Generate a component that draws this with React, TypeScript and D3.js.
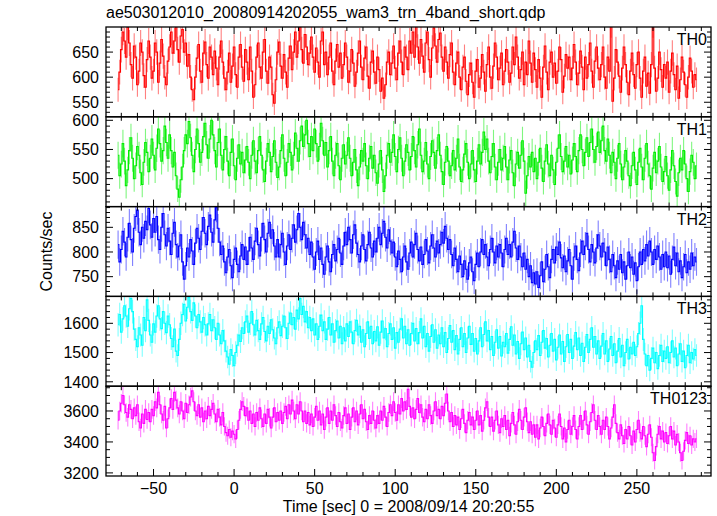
import React from "react";
import * as d3 from "d3";

const TITLE = "ae503012010_20080914202055_wam3_trn_4band_short.qdp";
const X_LABEL = "Time [sec] 0 = 2008/09/14 20:20:55";
const Y_LABEL = "Counts/sec";
const T_START = -72; // centre of first 1-s bin
const BIN = 1;

const TH0 = [
  575, 610, 655, 690, 672, 640, 700, 668, 625, 598, 662, 640, 585, 612, 668, 650, 603, 580, 635, 672,
  640, 598, 612, 668, 650, 590, 628, 675, 642, 600, 585, 632, 660, 690, 648, 672, 705, 655, 630, 682,
  695, 650, 668, 622, 645, 600, 575, 555, 600, 638, 665, 612, 590, 648, 670, 625, 598, 660, 640, 605,
  652, 618, 585, 640, 672, 630, 598, 575, 610, 648, 590, 622, 660, 605, 580, 640, 665, 620, 592, 655,
  630, 595, 660, 612, 560, 585, 640, 668, 620, 598, 650, 675, 612, 588, 640, 620, 565, 548, 595, 650,
  670, 622, 598, 645, 610, 580, 638, 662, 615, 650, 690, 640, 672, 700, 655, 628, 685, 660, 625, 648,
  680, 640, 610, 658, 630, 600, 672, 690, 625, 650, 605, 640, 668, 612, 585, 632, 665, 620, 648, 598,
  625, 668, 640, 590, 612, 655, 628, 582, 610, 648, 672, 620, 595, 638, 660, 602, 578, 630, 652, 610,
  588, 640, 615, 572, 598, 558, 585, 630, 650, 605, 628, 662, 618, 595, 648, 672, 630, 605, 660, 640,
  615, 672, 648, 690, 640, 705, 660, 628, 675, 642, 610, 668, 690, 635, 600, 658, 698, 662, 630, 675,
  688, 640, 612, 660, 630, 598, 645, 668, 610, 585, 628, 650, 600, 575, 620, 640, 592, 565, 605, 628,
  590, 560, 612, 635, 580, 598, 645, 610, 572, 625, 660, 600, 578, 622, 668, 640, 595, 618, 648, 585,
  612, 655, 630, 590, 608, 660, 625, 680, 640, 598, 615, 650, 585, 630, 605, 672, 628, 590, 648, 615,
  580, 635, 598, 560, 620, 662, 610, 575, 630, 650, 600, 628, 588, 612, 660, 635, 570, 602, 645, 618,
  640, 595, 618, 665, 630, 585, 608, 652, 620, 575, 640, 598, 625, 668, 612, 580, 632, 660, 618, 595,
  625, 660, 600, 578, 640, 612, 705, 552, 598, 655, 630, 602, 570, 618, 660, 625, 590, 565, 612, 648,
  605, 578, 625, 650, 598, 560, 612, 640, 582, 608, 568, 625, 705, 618, 572, 598, 650, 615, 580, 625,
  598, 630, 570, 612, 648, 605, 575, 622, 558, 595, 640, 610, 585, 560, 600, 638, 612, 580, 605, 595,
];

const TH1 = [
  540, 505, 525, 560, 530, 488, 515, 548, 570, 535, 500, 522, 555, 540, 510, 490, 528, 562, 545, 512,
  535, 568, 540, 515, 552, 585, 560, 530, 548, 590, 562, 535, 575, 548, 520, 545, 505, 482, 468, 498,
  520, 548, 575, 560, 598, 570, 540, 512, 550, 585, 560, 528, 545, 572, 595, 558, 535, 568, 600, 575,
  548, 520, 562, 585, 540, 515, 550, 572, 530, 505, 545, 568, 522, 498, 535, 558, 525, 545, 510, 532,
  555, 528, 500, 540, 565, 530, 510, 548, 572, 540, 515, 495, 530, 560, 545, 512, 538, 565, 528, 502,
  520, 548, 575, 535, 505, 528, 560, 545, 515, 540, 578, 552, 530, 565, 590, 555, 575, 600, 560, 538,
  572, 548, 585, 560, 530, 555, 595, 565, 540, 562, 520, 548, 572, 530, 505, 540, 560, 522, 498, 535,
  558, 525, 540, 570, 535, 505, 528, 550, 515, 488, 520, 548, 530, 560, 522, 500, 535, 555, 518, 540,
  510, 492, 525, 548, 515, 478, 505, 540, 560, 528, 545, 575, 538, 512, 550, 570, 535, 505, 530, 558,
  545, 515, 538, 572, 548, 520, 558, 585, 540, 512, 530, 562, 525, 500, 538, 565, 545, 518, 548, 575,
  540, 512, 490, 528, 555, 530, 505, 522, 548, 515, 535, 568, 520, 495, 515, 542, 560, 528, 500, 525,
  548, 515, 495, 530, 558, 525, 545, 580, 550, 568, 530, 510, 538, 560, 520, 498, 528, 550, 515, 535,
  555, 520, 498, 532, 548, 510, 488, 525, 545, 518, 540, 565, 530, 475, 505, 538, 520, 545, 512, 535,
  500, 528, 552, 518, 495, 530, 558, 525, 505, 540, 515, 490, 528, 552, 575, 538, 512, 530, 555, 520,
  540, 508, 532, 560, 538, 512, 548, 575, 550, 522, 545, 570, 538, 562, 585, 550, 528, 555, 580, 545,
  565, 590, 548, 530, 568, 540, 510, 545, 528, 500, 535, 560, 525, 498, 520, 548, 530, 505, 488, 522,
  545, 515, 490, 528, 552, 520, 498, 535, 560, 525, 505, 482, 518, 545, 510, 530, 555, 520, 495, 512,
  538, 505, 480, 515, 548, 522, 495, 470, 510, 535, 515, 548, 525, 500, 478, 512, 540, 528, 500, 522,
];

const TH2 = [
  815, 780, 805, 842, 820, 790, 830, 858, 825, 800, 848, 872, 885, 840, 815, 850, 828, 862, 845, 888,
  855, 830, 868, 840, 872, 825, 805, 850, 878, 835, 812, 848, 822, 795, 838, 860, 815, 790, 812, 835,
  780, 745, 772, 808, 790, 825, 802, 775, 818, 848, 828, 805, 842, 870, 838, 815, 852, 875, 840, 820,
  865, 890, 848, 820, 795, 812, 780, 758, 790, 805, 772, 748, 785, 808, 775, 760, 792, 815, 785, 810,
  775, 802, 830, 808, 785, 822, 848, 815, 792, 830, 858, 825, 800, 838, 860, 828, 845, 812, 790, 825,
  790, 815, 838, 800, 775, 812, 835, 805, 828, 855, 820, 845, 878, 850, 825, 860, 835, 808, 828, 795,
  820, 790, 765, 800, 822, 785, 808, 775, 755, 790, 812, 780, 760, 795, 815, 782, 805, 828, 798, 775,
  812, 840, 815, 850, 825, 798, 835, 855, 818, 795, 780, 812, 835, 805, 782, 815, 840, 808, 790, 822,
  800, 828, 850, 815, 838, 862, 830, 808, 845, 822, 798, 820, 790, 770, 802, 785, 760, 790, 812, 780,
  765, 798, 820, 790, 815, 838, 805, 782, 810, 775, 795, 825, 802, 778, 812, 835, 808, 790, 822, 798,
  815, 840, 818, 852, 828, 805, 825, 795, 772, 808, 785, 760, 792, 775, 750, 782, 765, 745, 778, 790,
  760, 742, 775, 798, 770, 800, 825, 795, 815, 790, 772, 805, 828, 800, 778, 812, 790, 815, 798, 770,
  805, 828, 795, 815, 790, 820, 842, 808, 785, 812, 790, 770, 798, 765, 785, 750, 772, 738, 758, 735,
  760, 728, 752, 780, 740, 765, 795, 770, 748, 785, 805, 778, 810, 795, 820, 788, 768, 792, 760, 782,
  805, 772, 745, 790, 812, 785, 762, 798, 822, 795, 812, 838, 805, 780, 815, 800, 778, 808, 835, 812,
  790, 818, 800, 772, 810, 785, 760, 795, 772, 748, 782, 765, 795, 758, 780, 745, 772, 800, 768, 790,
  755, 778, 742, 770, 800, 775, 805, 782, 815, 792, 822, 800, 775, 805, 785, 812, 790, 765, 795, 770,
  800, 768, 792, 755, 785, 810, 772, 798, 760, 782, 748, 770, 795, 758, 780, 765, 798, 772, 790, 780,
];

const TH3 = [
  1595, 1630, 1570, 1615, 1660, 1625, 1590, 1650, 1685, 1640, 1580, 1545, 1520, 1585, 1560, 1525, 1620, 1575, 1680, 1610,
  1560, 1535, 1598, 1570, 1625, 1660, 1615, 1582, 1640, 1600, 1568, 1625, 1595, 1548, 1520, 1580, 1505, 1490, 1545, 1600,
  1630, 1665, 1608, 1655, 1688, 1640, 1610, 1670, 1625, 1585, 1630, 1605, 1570, 1620, 1595, 1560, 1598, 1630, 1575, 1612,
  1585, 1545, 1600, 1560, 1530, 1575, 1540, 1505, 1485, 1460, 1510, 1490, 1455, 1500, 1525, 1560, 1538, 1585, 1565, 1605,
  1625, 1570, 1600, 1640, 1595, 1560, 1610, 1575, 1545, 1598, 1620, 1572, 1540, 1590, 1565, 1612, 1578, 1550, 1530, 1585,
  1605, 1558, 1590, 1625, 1585, 1548, 1600, 1635, 1595, 1620, 1580, 1645, 1615, 1685, 1630, 1658, 1605, 1640, 1585, 1620,
  1575, 1615, 1560, 1598, 1545, 1590, 1628, 1575, 1605, 1545, 1580, 1620, 1560, 1598, 1535, 1575, 1608, 1550, 1590, 1530,
  1585, 1540, 1598, 1555, 1605, 1570, 1530, 1575, 1610, 1560, 1590, 1535, 1578, 1520, 1565, 1605, 1548, 1590, 1530, 1572,
  1540, 1588, 1525, 1570, 1608, 1550, 1582, 1520, 1565, 1598, 1545, 1585, 1515, 1568, 1535, 1580, 1615, 1550, 1590, 1530,
  1578, 1525, 1565, 1600, 1540, 1582, 1530, 1568, 1615, 1550, 1590, 1520, 1565, 1505, 1555, 1595, 1535, 1578, 1515, 1560,
  1530, 1585, 1520, 1568, 1500, 1548, 1592, 1535, 1575, 1510, 1558, 1495, 1545, 1585, 1520, 1565, 1500, 1550, 1590, 1528,
  1565, 1505, 1548, 1495, 1540, 1585, 1520, 1562, 1605, 1540, 1575, 1510, 1555, 1490, 1535, 1578, 1515, 1555, 1488, 1535,
  1520, 1565, 1498, 1545, 1588, 1525, 1560, 1495, 1538, 1480, 1530, 1570, 1510, 1550, 1485, 1525, 1470, 1450, 1500, 1540,
  1510, 1558, 1490, 1535, 1575, 1515, 1548, 1485, 1525, 1565, 1505, 1545, 1475, 1518, 1560, 1495, 1538, 1470, 1520, 1562,
  1500, 1545, 1480, 1522, 1568, 1510, 1550, 1490, 1532, 1470, 1518, 1562, 1500, 1545, 1585, 1518, 1555, 1495, 1540, 1480,
  1522, 1565, 1495, 1540, 1470, 1512, 1555, 1490, 1530, 1465, 1505, 1548, 1485, 1525, 1455, 1500, 1545, 1478, 1518, 1495,
  1535, 1490, 1520, 1565, 1600, 1660, 1545, 1495, 1455, 1490, 1440, 1480, 1515, 1465, 1500, 1445, 1490, 1525, 1470, 1505,
  1480, 1520, 1465, 1500, 1540, 1485, 1515, 1455, 1495, 1530, 1470, 1505, 1448, 1490, 1525, 1465, 1500, 1478, 1510, 1490,
];

const TH0123 = [
  3540, 3600, 3650, 3700, 3640, 3590, 3560, 3640, 3610, 3550, 3620, 3570, 3640, 3530, 3490, 3580, 3520, 3610, 3545, 3590,
  3530, 3610, 3570, 3660, 3620, 3720, 3640, 3580, 3540, 3630, 3490, 3550, 3620, 3680, 3610, 3720, 3670, 3620, 3580, 3660,
  3600, 3550, 3650, 3590, 3640, 3690, 3730, 3660, 3600, 3570, 3640, 3560, 3620, 3530, 3600, 3550, 3630, 3570, 3610, 3650,
  3580, 3530, 3610, 3560, 3510, 3590, 3500, 3460, 3440, 3480, 3430, 3470, 3450, 3420, 3480, 3540, 3610, 3660, 3630, 3570,
  3620, 3540, 3600, 3520, 3580, 3500, 3590, 3540, 3620, 3550, 3500, 3580, 3520, 3610, 3560, 3490, 3560, 3620, 3530, 3590,
  3540, 3600, 3520, 3590, 3630, 3550, 3640, 3580, 3670, 3600, 3550, 3640, 3580, 3660, 3600, 3530, 3600, 3520, 3590, 3510,
  3580, 3500, 3560, 3630, 3540, 3600, 3510, 3580, 3480, 3560, 3620, 3520, 3600, 3540, 3640, 3570, 3500, 3590, 3530, 3490,
  3570, 3620, 3520, 3580, 3480, 3560, 3620, 3530, 3600, 3510, 3580, 3640, 3550, 3610, 3530, 3480, 3570, 3520, 3600, 3540,
  3490, 3570, 3520, 3600, 3540, 3630, 3560, 3500, 3590, 3640, 3570, 3660, 3590, 3540, 3640, 3580, 3680, 3600, 3660, 3610,
  3740, 3630, 3560, 3620, 3550, 3610, 3680, 3590, 3640, 3560, 3530, 3610, 3550, 3640, 3570, 3520, 3600, 3660, 3570, 3610,
  3550, 3630, 3570, 3650, 3710, 3600, 3530, 3590, 3500, 3570, 3510, 3560, 3480, 3550, 3610, 3520, 3460, 3540, 3590, 3510,
  3560, 3480, 3540, 3600, 3510, 3570, 3470, 3540, 3620, 3660, 3560, 3500, 3560, 3470, 3540, 3600, 3510, 3460, 3550, 3500,
  3570, 3480, 3540, 3440, 3520, 3590, 3510, 3450, 3530, 3610, 3540, 3480, 3560, 3620, 3530, 3460, 3530, 3450, 3510, 3430,
  3510, 3420, 3490, 3560, 3500, 3440, 3520, 3580, 3510, 3450, 3540, 3490, 3430, 3510, 3580, 3500, 3420, 3490, 3400, 3480,
  3540, 3450, 3500, 3570, 3480, 3420, 3500, 3570, 3480, 3540, 3600, 3510, 3450, 3530, 3590, 3640, 3540, 3480, 3570, 3500,
  3450, 3540, 3480, 3560, 3500, 3420, 3490, 3560, 3640, 3520, 3460, 3420, 3510, 3440, 3390, 3480, 3420, 3500, 3440, 3380,
  3470, 3400, 3480, 3540, 3460, 3420, 3500, 3440, 3370, 3450, 3510, 3430, 3330, 3280, 3370, 3450, 3500, 3420, 3470, 3400,
  3460, 3390, 3440, 3500, 3420, 3470, 3380, 3450, 3400, 3330, 3280, 3340, 3410, 3460, 3390, 3440, 3380, 3420, 3400, 3420,
];

const PANEL_NAMES = ["TH0", "TH1", "TH2", "TH3", "TH0123"];
const PANEL_COLORS = ["#ff0000", "#00ee00", "#0000ff", "#00ffff", "#ff00ff"];
const PANEL_VALUES = [TH0, TH1, TH2, TH3, TH0123];
const PANEL_DOMAINS = [[521, 700], [452, 606], [710, 892], [1385, 1692], [3180, 3760]];
const PANEL_TICKS = [[550, 600, 650], [500, 550, 600], [750, 800, 850], [1400, 1500, 1600], [3200, 3400, 3600]];
const PANEL_MINOR = [10, 10, 10, 20, 50];
const X_DOMAIN = [-79.5, 296];
const X_TICKS = [-50, 0, 50, 100, 150, 200, 250];
const X_MINOR = 10;

const W = 717, H = 516;
const LEFT = 106, RIGHT = 711, TOP = 27, BOTTOM = 476;
const FONT = "'Liberation Sans', Arial, Helvetica, sans-serif";

export default function App() {
  const x = d3.scaleLinear().domain(X_DOMAIN).range([LEFT, RIGHT]);
  const nP = PANEL_NAMES.length;
  const ph = (BOTTOM - TOP) / nP;
  const xMinor = d3.range(Math.ceil(X_DOMAIN[0] / X_MINOR) * X_MINOR, X_DOMAIN[1], X_MINOR);

  return (
    <svg width={W} height={H} style={{ position: "absolute", left: 0, top: 0, background: "#fff" }}
      fontFamily={FONT}>
      <text x={LEFT} y={18} fontSize={16}>{TITLE}</text>
      {PANEL_NAMES.map((name, p) => {
        const y0 = TOP + p * ph, y1 = y0 + ph;
        const dom = PANEL_DOMAINS[p];
        const y = d3.scaleLinear().domain(dom).range([y1, y0]);
        const vals = PANEL_VALUES[p];
        const color = PANEL_COLORS[p];
        const pts = vals.map((v, i) => [T_START + i * BIN, v] as [number, number]);
        const line = d3.line<[number, number]>().x(d => x(d[0])).y(d => y(d[1])).curve(d3.curveStep);
        const yMinor = d3.range(Math.ceil(dom[0] / PANEL_MINOR[p]) * PANEL_MINOR[p], dom[1], PANEL_MINOR[p]);
        const clipId = `clip${p}`;
        return (
          <g key={name}>
            <defs>
              <clipPath id={clipId}><rect x={LEFT} y={y0} width={RIGHT - LEFT} height={ph} /></clipPath>
            </defs>
            <g clipPath={`url(#${clipId})`}>
              {pts.map(([t, v], i) => {
                const e = Math.sqrt(v * BIN) / BIN;
                return <line key={i} x1={x(t)} x2={x(t)} y1={y(v - e)} y2={y(v + e)}
                  stroke={color} strokeOpacity={0.5} strokeWidth={1.1} />;
              })}
              <path d={line(pts) || ""} fill="none" stroke={color} strokeWidth={1.1} />
            </g>
            <rect x={LEFT} y={y0} width={RIGHT - LEFT} height={ph} fill="none" stroke="#000" strokeWidth={1.3} />
            {xMinor.map(t => {
              const major = X_TICKS.includes(t);
              const len = major ? 7 : 4;
              return (
                <g key={"x" + t}>
                  <line x1={x(t)} x2={x(t)} y1={y1} y2={y1 - len} stroke="#000" strokeWidth={1} />
                  <line x1={x(t)} x2={x(t)} y1={y0} y2={y0 + len} stroke="#000" strokeWidth={1} />
                </g>
              );
            })}
            {yMinor.map(v => {
              const major = PANEL_TICKS[p].includes(v);
              const len = major ? 7 : 4;
              return (
                <g key={"y" + v}>
                  <line x1={LEFT} x2={LEFT + len} y1={y(v)} y2={y(v)} stroke="#000" strokeWidth={1} />
                  <line x1={RIGHT} x2={RIGHT - len} y1={y(v)} y2={y(v)} stroke="#000" strokeWidth={1} />
                </g>
              );
            })}
            {PANEL_TICKS[p].map(v => (
              <text key={"l" + v} x={LEFT - 7} y={y(v)} dy="0.36em" textAnchor="end" fontSize={16}>{v}</text>
            ))}
            <text x={RIGHT - 4} y={y0 + 18} textAnchor="end" fontSize={16}>{name}</text>
          </g>
        );
      })}
      {X_TICKS.map(t => (
        <text key={"xl" + t} x={x(t)} y={494} textAnchor="middle" fontSize={16}>{t === 0 ? "0" : t < 0 ? "\u2212" + Math.abs(t) : t}</text>
      ))}
      <text x={(LEFT + RIGHT) / 2} y={512} textAnchor="middle" fontSize={16}>{X_LABEL}</text>
      <text transform={`translate(52,${(TOP + BOTTOM) / 2}) rotate(-90)`} textAnchor="middle" fontSize={16}>{Y_LABEL}</text>
    </svg>
  );
}
